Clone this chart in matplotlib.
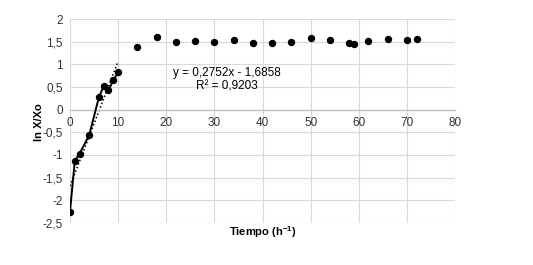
import numpy as np
import matplotlib
matplotlib.use('Agg')
import matplotlib.pyplot as plt
import matplotlib.ticker as mtick

plt.rcParams["font.family"] = ["Liberation Sans", "DejaVu Sans"]
plt.rcParams["mathtext.fontset"] = "custom"
plt.rcParams["mathtext.rm"] = "Liberation Sans"
plt.rcParams["mathtext.bf"] = "Liberation Sans:bold"

# exponential phase (joined with line)
t_exp = [0, 1, 2, 4, 6, 7, 8, 9, 10]
lnx_exp = [-2.25, -1.13, -0.97, -0.56, 0.27, 0.52, 0.43, 0.65, 0.82]

# stationary phase (markers only)
t_stat = [14, 18, 22, 26, 30, 34, 38, 42, 46, 50, 54, 58, 59, 62, 66, 70, 72]
lnx_stat = [1.38, 1.60, 1.50, 1.51, 1.49, 1.53, 1.48, 1.47, 1.50, 1.59,
            1.53, 1.47, 1.44, 1.51, 1.55, 1.53, 1.56]

slope = 0.2752
intercept = -1.6858
r2 = 0.9203

fig = plt.figure(figsize=(5.33, 2.65), dpi=100)
ax = fig.add_axes([0.1313, 0.1585, 0.7224, 0.7698])

# grid
ax.set_xlim(0, 80)
ax.set_ylim(-2.5, 2)
ax.set_xticks(np.arange(0, 81, 10))
ax.set_yticks(np.arange(-2.5, 2.01, 0.5))
ax.grid(True, color="#d9d9d9", linewidth=0.8)
ax.set_axisbelow(True)

for s in ["top", "right", "left"]:
    ax.spines[s].set_visible(False)
ax.spines["bottom"].set_position(("data", 0))
ax.spines["bottom"].set_color("#bfbfbf")
ax.spines["bottom"].set_linewidth(0.9)

ax.tick_params(length=0, labelsize=8.5, colors="#333333")
ax.tick_params(axis="x", pad=5)
ax.tick_params(axis="y", pad=5)
ax.yaxis.set_major_formatter(mtick.FuncFormatter(
    lambda v, p: ("%g" % v).replace(".", ",")))

# data
ax.plot(t_exp, lnx_exp, color="black", linewidth=1.4, marker="o",
        markersize=4.3, zorder=3)
ax.plot(t_stat, lnx_stat, linestyle="none", color="black", marker="o",
        markersize=4.3, zorder=3)

# linear trendline
xt = np.array([0, 10])
ax.plot(xt, slope * xt + intercept, color="black", linestyle=(0, (1, 1.5)),
        linewidth=1.1, zorder=2)

ax.text(32.5, 0.81, "y = 0,2752x - 1,6858", ha="center", va="center",
        fontsize=8.5)
ax.text(32.5, 0.52, "R² = 0,9203", ha="center", va="center", fontsize=8.5)

ax.set_ylabel("ln X/Xo", fontsize=8, fontweight="bold")
ax.yaxis.set_label_coords(-0.068, 0.495)
fig.text(0.493, 0.125, r"Tiempo (h$^{\mathbf{-1}}$)", ha="center",
         va="center", fontsize=8, fontweight="bold")

plt.savefig("out.png", dpi=100)
plt.close()
